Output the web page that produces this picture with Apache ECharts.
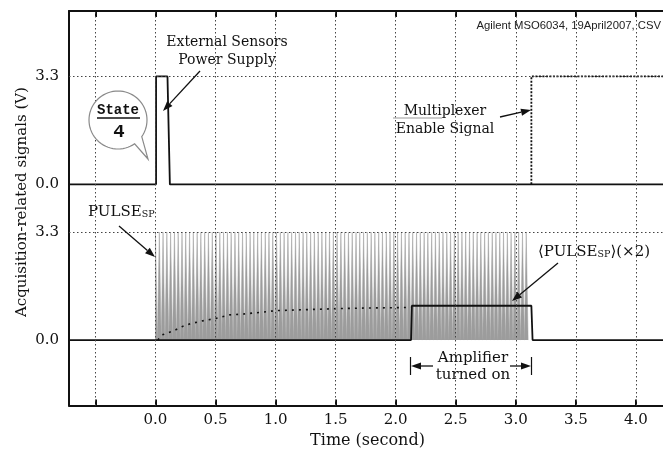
<!DOCTYPE html>
<html>
<head>
<meta charset="utf-8">
<script src="https://cdn.jsdelivr.net/npm/echarts@6/dist/echarts.min.js"></script>
<style>
  html, body { margin: 0; padding: 0; background: #fff; }
  #chart { width: 663px; height: 452px; }
</style>
</head>
<body>
<div id="chart"></div>
<script>
// 坐标轴刻度
const timeTicks = [-0.5, 0, 0.5, 1.0, 1.5, 2.0, 2.5, 3.0, 3.5, 4.0]
const timeLabels = [0, 0.5, 1.0, 1.5, 2.0, 2.5, 3.0, 3.5, 4.0]
const levelTicks = [0, 3.3]
const upperOffset = 4.76 // upper pair of traces is drawn above the lower pair

// External Sensors Power Supply (upper)
const powerT = [-0.72, 0.005, 0.005, 0.10, 0.12, 4.3]
const powerV = [0, 0, 3.3, 3.3, 0, 0]

// Multiplexer Enable Signal (upper, dotted)
const muxT = [3.13, 3.13, 4.3]
const muxV = [0, 3.3, 3.3]

// PULSE_SP rising edges (s), each pulse high for pulseWidth
const pulseRise = [
  0.000, 0.032, 0.063, 0.095, 0.126, 0.158, 0.189, 0.221, 0.252, 0.284,
  0.315, 0.347, 0.378, 0.410, 0.441, 0.473, 0.504, 0.536, 0.567, 0.599,
  0.630, 0.662, 0.693, 0.725, 0.756, 0.788, 0.819, 0.851, 0.882, 0.914,
  0.945, 0.977, 1.008, 1.040, 1.071, 1.103, 1.134, 1.166, 1.197, 1.229,
  1.260, 1.292, 1.323, 1.355, 1.386, 1.418, 1.449, 1.481, 1.512, 1.544,
  1.575, 1.607, 1.638, 1.670, 1.701, 1.733, 1.764, 1.796, 1.827, 1.859,
  1.890, 1.922, 1.953, 1.985, 2.016, 2.048, 2.079, 2.111, 2.142, 2.174,
  2.205, 2.237, 2.268, 2.300, 2.331, 2.363, 2.394, 2.426, 2.457, 2.489,
  2.520, 2.552, 2.583, 2.615, 2.646, 2.678, 2.709, 2.741, 2.772, 2.804,
  2.835, 2.867, 2.898, 2.930, 2.961, 2.993, 3.024, 3.056, 3.087
]
const pulseWidth = 0.016
const pulseHigh = 3.3

// <PULSE_SP>(x2) while amplifier is on (lower, solid)
const avgT = [-0.72, 2.128, 2.135, 3.13, 3.14, 4.3]
const avgV = [0, 0, 1.05, 1.05, 0, 0]

// <PULSE_SP>(x2) before the amplifier is switched on (dotted)
const chargeT = [0.02, 0.05, 0.15, 0.22, 0.29, 0.42, 0.49, 0.62, 0.74, 0.88, 1.0, 1.25, 1.5, 1.75, 2.0, 2.13]
const chargeV = [0.0, 0.15, 0.28, 0.41, 0.5, 0.61, 0.65, 0.77, 0.8, 0.85, 0.9, 0.93, 0.96, 0.98, 0.99, 1.0]

const serif = 'DejaVu Serif'
const mono = 'Liberation Mono'
const ink = '#111'

const zip = (ts, vs, off) => ts.map((t, i) => [t, vs[i] + off])

const pulseData = []
pulseRise.forEach(t => {
  pulseData.push([t, 0], [t, pulseHigh], [t + pulseWidth, pulseHigh], [t + pulseWidth, 0])
})

// 箭头
function arrow(x1, y1, x2, y2) {
  const a = Math.atan2(y2 - y1, x2 - x1)
  const h = 10, w = 3.6
  const bx = x2 - h * Math.cos(a), by = y2 - h * Math.sin(a)
  return [
    { type: 'line', z: 100, shape: { x1, y1, x2: bx, y2: by }, style: { stroke: ink, lineWidth: 1.3 } },
    {
      type: 'polygon', z: 100,
      shape: { points: [[x2, y2], [bx + w * Math.sin(a), by - w * Math.cos(a)], [bx - w * Math.sin(a), by + w * Math.cos(a)]] },
      style: { fill: ink }
    }
  ]
}

function label(text, x, y, size, family, weight) {
  return {
    type: 'text', z: 100,
    style: {
      text, x, y, fill: ink, fontSize: size, fontFamily: family || serif, fontWeight: weight || 'normal',
      align: 'center', textAlign: 'center', verticalAlign: 'middle', textVerticalAlign: 'middle'
    }
  }
}

// 对话气泡外形
function bubble(cx, cy, r, tipX, tipY) {
  const pts = []
  for (let d = 55; d <= 395; d += 5) {
    const a = d * Math.PI / 180
    pts.push([cx + r * Math.cos(a), cy + r * Math.sin(a)])
  }
  pts.push([tipX, tipY])
  return {
    type: 'polygon', z: 90,
    shape: { points: pts },
    style: { fill: '#fff', stroke: '#8a8a8a', lineWidth: 1.2 }
  }
}

const graphic = [
  label('External Sensors', 227, 42, 14),
  label('Power Supply', 227, 60, 14),
  ...arrow(200, 71, 163, 111),

  bubble(118, 120, 29, 148, 159),
  label('State', 118, 110, 14, mono, 'bold'),
  { type: 'line', z: 100, shape: { x1: 97, y1: 118, x2: 140, y2: 118 }, style: { stroke: ink, lineWidth: 1.5 } },
  label('4', 119, 132, 19, mono, 'bold'),

  {
    type: 'text', z: 100,
    style: {
      text: 'Agilent MSO6034, 19April2007, CSV', x: 661, y: 26, fill: '#222',
      fontSize: 11.3, fontFamily: 'Liberation Sans',
      align: 'right', textAlign: 'right', verticalAlign: 'middle', textVerticalAlign: 'middle'
    }
  },

  label('Multiplexer', 445, 111, 14),
  { type: 'line', z: 100, shape: { x1: 393, y1: 118, x2: 442, y2: 118 }, style: { stroke: '#999', lineWidth: 1 } },
  label('Enable Signal', 445, 129, 14),
  ...arrow(500, 117, 531, 110),

  {
    type: 'text', z: 100,
    style: {
      text: '{a|PULSE}{b|SP}', x: 88, y: 212, fill: ink,
      align: 'left', textAlign: 'left', verticalAlign: 'middle', textVerticalAlign: 'middle',
      rich: {
        a: { fontSize: 15, fontFamily: serif, fill: ink, verticalAlign: 'bottom' },
        b: { fontSize: 9.5, fontFamily: serif, fill: ink, verticalAlign: 'bottom', padding: [5, 0, 0, 0] }
      }
    }
  },
  ...arrow(119, 226, 155, 257),

  {
    type: 'text', z: 100,
    style: {
      text: '{a|\u27E8PULSE}{b|SP}{a|\u27E9(\u00D72)}', x: 538, y: 252, fill: ink,
      align: 'left', textAlign: 'left', verticalAlign: 'middle', textVerticalAlign: 'middle',
      rich: {
        a: { fontSize: 15, fontFamily: serif, fill: ink, verticalAlign: 'bottom' },
        b: { fontSize: 9.5, fontFamily: serif, fill: ink, verticalAlign: 'bottom', padding: [5, 0, 0, 0] }
      }
    }
  },
  ...arrow(558, 263, 512, 301),

  // Amplifier turned on
  { type: 'line', z: 100, shape: { x1: 410.5, y1: 357, x2: 410.5, y2: 375 }, style: { stroke: ink, lineWidth: 1.2 } },
  { type: 'line', z: 100, shape: { x1: 531.5, y1: 357, x2: 531.5, y2: 375 }, style: { stroke: ink, lineWidth: 1.2 } },
  ...arrow(433, 366, 411, 366),
  ...arrow(510, 366, 531, 366),
  label('Amplifier', 473, 358, 15),
  label('turned on', 473, 375, 15),

  {
    type: 'text', z: 100, x: 22, y: 202, rotation: Math.PI / 2,
    style: {
      text: 'Acquisition-related signals (V)', x: 0, y: 0, fill: ink, fontSize: 15, fontFamily: serif,
      align: 'center', textAlign: 'center', verticalAlign: 'middle', textVerticalAlign: 'middle'
    }
  }
]

const dotted = { color: '#444', width: 1, type: [1.5, 2.5] }

const chart = echarts.init(document.getElementById('chart'))
chart.setOption({
  animation: false,
  backgroundColor: '#fff',
  grid: { left: 69, top: 11, width: 597, height: 394.5, outerBoundsMode: 'none' },
  xAxis: [
    {
      type: 'value', min: -0.72, max: 4.251,
      name: 'Time (second)', nameLocation: 'middle', nameGap: 27,
      nameTextStyle: { fontFamily: serif, fontSize: 16, color: ink },
      axisLine: { onZero: false, lineStyle: { color: ink, width: 2 } },
      axisTick: { inside: true, length: 6, customValues: timeTicks, lineStyle: { color: ink, width: 2 } },
      axisLabel: {
        customValues: timeLabels, margin: 7,
        fontFamily: serif, fontSize: 15, color: ink,
        formatter: v => v.toFixed(1)
      },
      splitLine: { show: false }
    },
    {
      type: 'value', position: 'top', min: -0.72, max: 4.251,
      axisLine: { onZero: false, lineStyle: { color: ink, width: 2 } },
      axisTick: { inside: true, length: 6, customValues: timeTicks, lineStyle: { color: ink, width: 2 } },
      axisLabel: { show: false },
      splitLine: { show: false }
    }
  ],
  yAxis: {
    type: 'value', min: -2.0, max: 10.06,
    axisLine: { show: true, onZero: false, lineStyle: { color: ink, width: 2 } },
    axisTick: { show: false },
    axisLabel: {
      customValues: [...levelTicks, ...levelTicks.map(v => v + upperOffset)],
      margin: 10, fontFamily: serif, fontSize: 15, color: ink,
      formatter: v => (v > upperOffset - 0.5 ? v - upperOffset : v).toFixed(1)
    },
    splitLine: { show: false }
  },
  graphic,
  series: [
    {
      name: 'PULSE_SP', type: 'line', data: pulseData, showSymbol: false, z: 1,
      lineStyle: { color: '#a0a0a0', width: 0.5 },
      areaStyle: { color: '#9c9c9c', opacity: 1 },
      markLine: {
        silent: true, symbol: ['none', 'none'], label: { show: false },
        lineStyle: dotted,
        data: [
          ...timeTicks.map(v => ({ xAxis: v })),
          ...[pulseHigh, pulseHigh + upperOffset].map(v => ({ yAxis: v }))
        ]
      }
    },
    {
      name: 'charge', type: 'line', data: zip(chargeT, chargeV, 0), showSymbol: false, z: 3,
      lineStyle: { color: ink, width: 1.6, type: [2, 5] }
    },
    {
      name: 'avg', type: 'line', data: zip(avgT, avgV, 0), showSymbol: false, z: 4,
      lineStyle: { color: ink, width: 1.8 }
    },
    {
      name: 'power', type: 'line', data: zip(powerT, powerV, upperOffset), showSymbol: false, z: 4,
      lineStyle: { color: ink, width: 1.8 }
    },
    {
      name: 'mux', type: 'line', data: zip(muxT, muxV, upperOffset), showSymbol: false, z: 4,
      lineStyle: { color: ink, width: 1.8, type: [2, 1.5] }
    }
  ]
})
</script>
</body>
</html>
